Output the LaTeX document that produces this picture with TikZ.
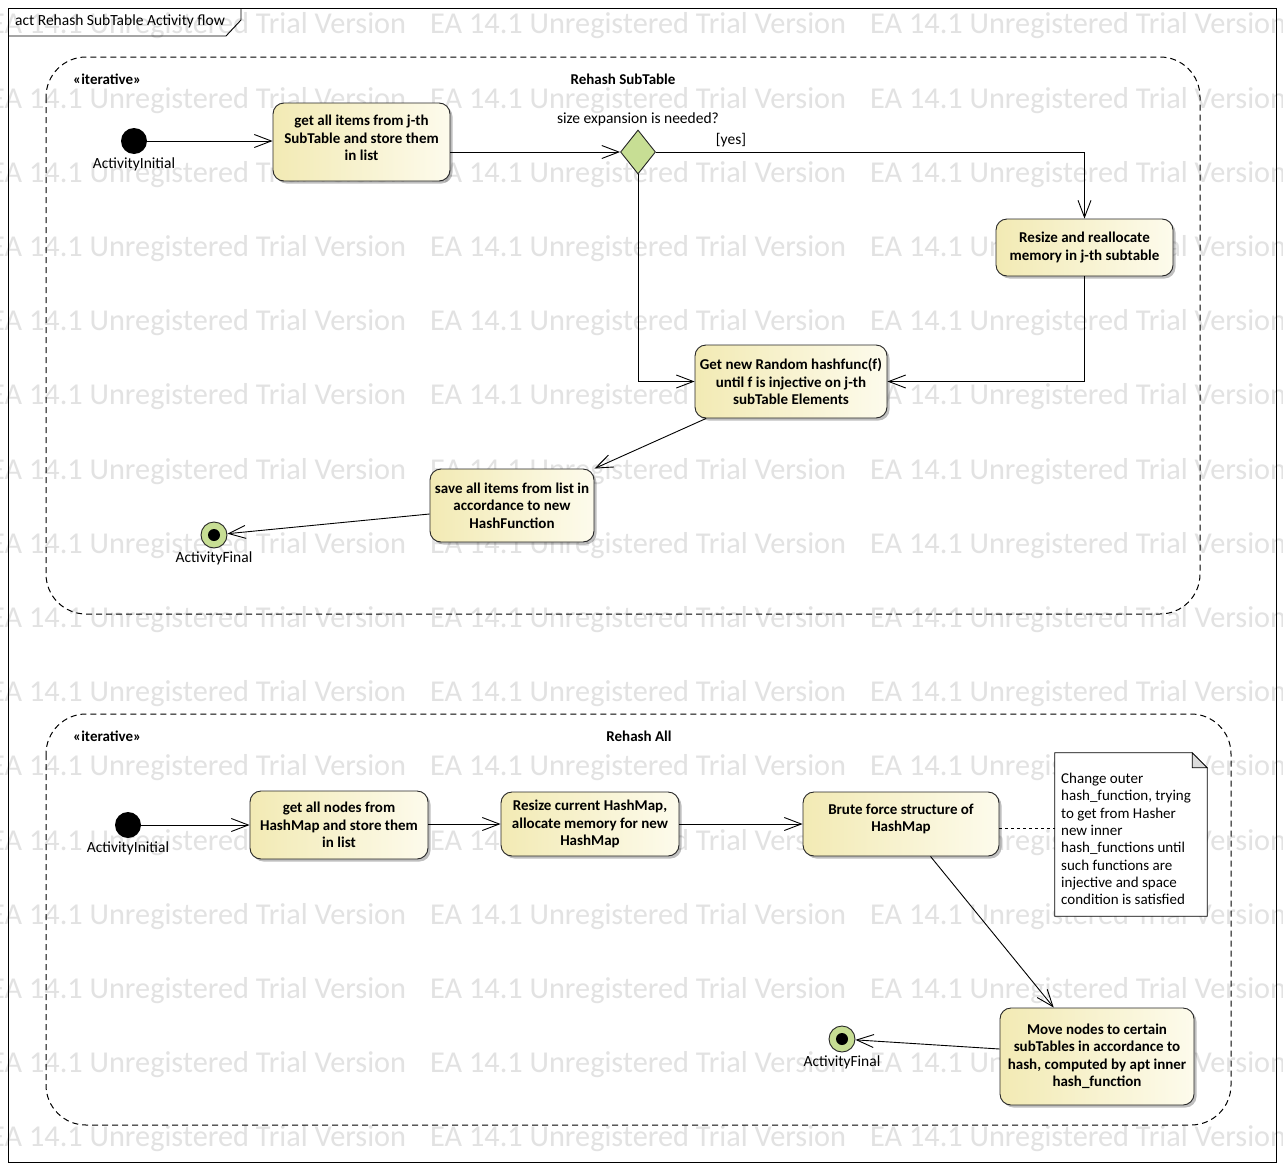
\documentclass[tikz,border=0pt]{standalone}
\usepackage{fontspec}
\setmainfont{Carlito}
\usetikzlibrary{arrows.meta,shapes.geometric,shadows,calc}
\pgfdeclarelayer{wm}
\pgfdeclarelayer{background}
\pgfsetlayers{wm,background,main}

\definecolor{actleft}{RGB}{242,234,180}
\definecolor{actright}{RGB}{253,251,236}
\definecolor{decfill}{RGB}{199,222,148}
\definecolor{wmgray}{RGB}{226,226,226}
\definecolor{foldgray}{RGB}{220,220,220}

\tikzset{
  action/.style={draw=black!85, line width=0.9pt, rounded corners=11pt,
    left color=actleft, right color=actright, align=center, inner sep=3pt,
    font=\fontsize{15}{17.5}\selectfont\bfseries,
    drop shadow={opacity=0.25, shadow xshift=2.5pt, shadow yshift=-2.5pt, fill=black}},
  flow/.style={line width=0.9pt, -{Straight Barb[length=17pt,width=13pt,line width=0.9pt]}},
  region/.style={draw=black, line width=1pt, dash pattern=on 6pt off 4pt, rounded corners=40pt},
  initnode/.style={circle, fill=black, minimum size=26pt, inner sep=0pt},
  finalnode/.style={circle, draw=black!85, line width=0.9pt, fill=decfill, minimum size=26pt, inner sep=0pt,
    path picture={\fill[black] (path picture bounding box.center) circle (6pt);}},
  decision/.style={diamond, draw=black!85, line width=0.9pt, fill=decfill, minimum width=35pt,
    minimum height=44pt, inner sep=0pt, aspect=0.8},
  lbl/.style={font=\fontsize{15.5}{17}\selectfont, inner sep=0pt},
  blbl/.style={font=\fontsize{15}{17}\selectfont\bfseries, inner sep=0pt},
  wmark/.style={anchor=west, text=wmgray, inner sep=0pt, font=\fontsize{30.3}{31}\selectfont},
}

\begin{document}
\begin{tikzpicture}[x=1pt,y=-1pt]
\useasboundingbox (0,0) rectangle (1283,1170);

% watermark grid
\begin{pgfonlayer}{wm}
  \fill[white] (0,0) rectangle (1283,1170);
  \foreach \r in {0,...,15}
    \foreach \c in {-10,430,870}
      \node[wmark] at (\c,26+74.2*\r) {EA 14.1 Unregistered Trial Version};
\end{pgfonlayer}

% diagram frame and its name tab
\draw[line width=0.9pt] (8,8) rectangle (1276,1162);
\draw[line width=0.9pt] (8,36) -- (226,36) -- (241,20) -- (241,8);
\node[lbl, anchor=west] (title) at (15,21) {act Rehash SubTable Activity flow};

% ---------------- Rehash SubTable ----------------
\draw[region] (46,57) rectangle (1200,614);
\node[blbl, anchor=west] (st1) at (73,79) {«iterative»};
\node[blbl] (reg1) at (623,79) {Rehash SubTable};

\node[initnode, label={[lbl, yshift=-3pt]below:ActivityInitial}] (i1) at (134,141) {};
\node[action, minimum width=177pt, minimum height=78pt, text depth=8pt] (a1) at (361.5,142)
  {get all items from j-th\\SubTable and store them\\in list};
\node[decision] (dec) at (638,152) {};
\node[lbl] (declbl) at (638,119) {size expansion is needed?};
\node[action, minimum width=177pt, minimum height=57pt] (rs) at (1084.5,247.5)
  {Resize and reallocate\\memory in j-th subtable};
\node[action, minimum width=192pt, minimum height=73pt] (gn) at (791,381.5)
  {Get new Random hashfunc(f)\\until f is injective on j-th\\subTable Elements};
\node[action, minimum width=164pt, minimum height=73pt] (sv) at (512,505.5)
  {save all items from list in\\accordance to new\\HashFunction};
\node[finalnode, label={[lbl, yshift=-3pt]below:ActivityFinal}] (f1) at (214,535) {};

\draw[flow] (i1.east) -- (i1.east -| a1.west);
\draw[flow] (a1.east |- dec.west) -- (dec.west);
\draw[flow] (dec.east) -| (rs.north);
\node[lbl] (yes) at (731,140) {[yes]};
\draw[flow] (rs.south) |- (gn.east);
\draw[flow] (dec.south) |- (gn.west);
\draw[flow] ($(gn.south west)!0.06!(gn.south east)$) -- (sv.north east);
\draw[flow] ([yshift=-8.5pt]sv.west) -- (f1);

% ---------------- Rehash All ----------------
\draw[region] (46,714) rectangle (1231,1125);
\node[blbl, anchor=west] (st2) at (73,736) {«iterative»};
\node[blbl] (reg2) at (639,736) {Rehash All};

\node[initnode, label={[lbl, yshift=-3pt]below:ActivityInitial}] (i2) at (128,825) {};
\node[action, minimum width=178pt, minimum height=68pt] (ga) at (339,825)
  {get all nodes from\\HashMap and store them\\in list};
\node[action, minimum width=178pt, minimum height=64pt] (rh) at (590,824)
  {Resize current HashMap,\\allocate memory for new\\HashMap};
\node[action, minimum width=196pt, minimum height=64pt, text depth=12pt] (bf) at (901,824)
  {Brute force structure of\\HashMap};
\node[action, minimum width=194pt, minimum height=97pt] (mv) at (1097,1056.5)
  {Move nodes to certain\\subTables in accordance to\\hash, computed by apt inner\\hash\_function};
\node[finalnode, label={[lbl, yshift=-3pt]below:ActivityFinal}] (f2) at (842,1039) {};

% note attached to the brute force step
\node[minimum width=152pt, minimum height=163pt, inner sep=0pt] (note) at (1131,834.5) {};
\begin{pgfonlayer}{background}
  \draw[line width=0.8pt, fill=white] (note.north west) -- ([xshift=-15pt]note.north east)
    -- ([yshift=-15pt]note.north east) -- (note.south east) -- (note.south west) -- cycle;
  \draw[line width=0.8pt, fill=foldgray] ([xshift=-15pt]note.north east)
    -- ([xshift=-15pt,yshift=-15pt]note.north east) -- ([yshift=-15pt]note.north east) -- cycle;
\end{pgfonlayer}
\node[lbl, anchor=north west, align=left, font=\fontsize{15}{17.3}\selectfont] (notetxt) at (1061,773)
  {Change outer\\hash\_function, trying\\to get from Hasher\\new inner\\hash\_functions until\\such functions are\\injective and space\\condition is satisfied};

\draw[flow] (i2.east) -- (ga.west);
\draw[flow] (ga.east |- rh.west) -- (rh.west);
\draw[flow] (rh.east) -- (bf.west);
\draw[line width=0.8pt, dash pattern=on 3pt off 3pt] ([yshift=-4pt]bf.east) -- ([yshift=-4pt]bf.east -| note.west);
\draw[flow] ($(bf.south west)!0.65!(bf.south east)$) -- ($(mv.north west)!0.278!(mv.north east)$);
\draw[flow] ([yshift=7.5pt]mv.west) -- (f2);
\end{tikzpicture}
\end{document}
